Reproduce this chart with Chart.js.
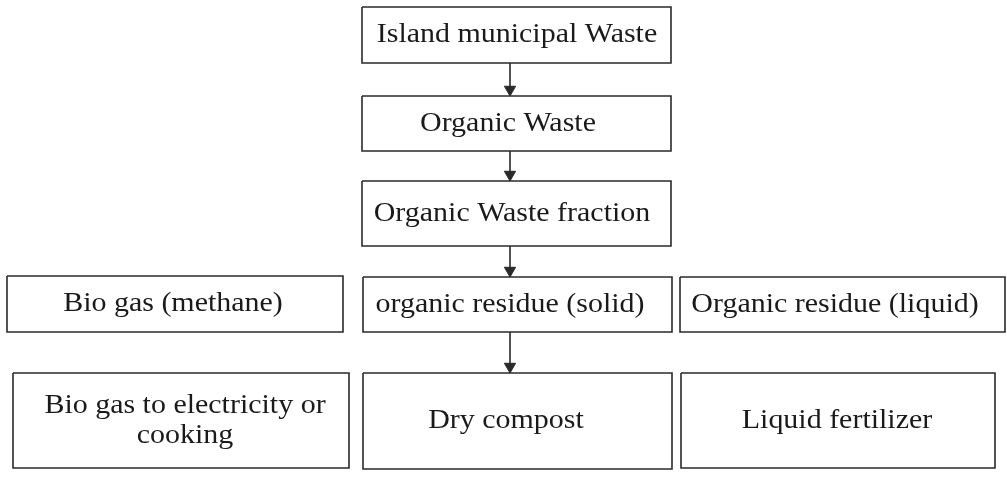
<!DOCTYPE html>
<html>
<head>
<meta charset="utf-8">
<script src="https://cdn.jsdelivr.net/npm/chart.js@4.4.1/dist/chart.umd.min.js"></script>
<style>
html,body{margin:0;padding:0;background:#fff;}
#wrap{position:relative;width:1007px;height:489px;}
</style>
</head>
<body>
<div id="wrap"><canvas id="c"></canvas></div>
<script>
// Flowchart nodes (labels)
const nodeLabels = [
  'Island municipal Waste',
  'Organic Waste',
  'Organic Waste fraction',
  'Bio gas (methane)',
  'organic residue (solid)',
  'Organic residue (liquid)',
  'Bio gas to electricity or\ncooking',
  'Dry compost',
  'Liquid fertilizer'
];
// Node extents in diagram units
const nodeLeft   = [362, 362, 362,   7, 363, 680,  13, 363, 681];
const nodeRight  = [671, 671, 671, 343, 672, 1005, 349, 672, 995];
const nodeTop    = [  7,  96, 181, 276, 277, 277, 373, 373, 373];
const nodeBottom = [ 63, 151, 246, 332, 332, 332, 468, 469, 468];
const labelCenter = [517, 508, 512, 173, 510, 835, 185, 506, 837];
// Arrows: from node, to node, along x
const edgeFrom = [0, 1, 2, 4];
const edgeTo   = [1, 2, 4, 7];
const edgeX    = [510, 510, 510, 510];

const ink = '#2a2a2a';
const headR = 6.5;

const datasets = [];
nodeLabels.forEach((lab, i) => {
  datasets.push({
    data: [
      {x: nodeLeft[i], y: nodeTop[i]},
      {x: nodeRight[i], y: nodeTop[i]},
      {x: nodeRight[i], y: nodeBottom[i]},
      {x: nodeLeft[i], y: nodeBottom[i]},
      {x: nodeLeft[i], y: nodeTop[i]}
    ],
    showLine: true, borderColor: ink, borderWidth: 1.6, pointRadius: 0,
    tension: 0, fill: false
  });
});
edgeFrom.forEach((f, k) => {
  const t = edgeTo[k];
  datasets.push({
    data: [{x: edgeX[k], y: nodeBottom[f]}, {x: edgeX[k], y: nodeTop[t] - headR}],
    showLine: true, borderColor: ink, borderWidth: 1.6, pointRadius: 0, fill: false
  });
});
datasets.push({
  data: edgeTo.map((t, k) => ({x: edgeX[k], y: nodeTop[t] - headR})),
  showLine: false, pointStyle: 'triangle', rotation: 180, pointRadius: headR,
  backgroundColor: ink, borderColor: ink, borderWidth: 1
});

const labelPlugin = {
  id: 'labels',
  afterDatasetsDraw(chart) {
    const {ctx, scales: {x, y}} = chart;
    ctx.save();
    ctx.fillStyle = '#1a1a1a';
    ctx.font = '28px "Liberation Serif", "Times New Roman", serif';
    ctx.textAlign = 'center';
    ctx.textBaseline = 'middle';
    const lineH = 30;
    nodeLabels.forEach((lab, i) => {
      const lines = lab.split('\n');
      const cx = x.getPixelForValue(labelCenter[i]);
      const cy = y.getPixelForValue((nodeTop[i] + nodeBottom[i]) / 2);
      lines.forEach((ln, j) => {
        const ly = cy + (j - (lines.length - 1) / 2) * lineH;
        ctx.save();
        ctx.translate(cx, ly);
        ctx.scale(1.07, 1);
        ctx.fillText(ln, 0, 0);
        ctx.restore();
      });
    });
    ctx.restore();
  }
};

new Chart(document.getElementById('c'), {
  type: 'scatter',
  data: {datasets},
  options: {
    responsive: true,
    maintainAspectRatio: false,
    animation: false,
    layout: {padding: 0, autoPadding: false},
    plugins: {legend: {display: false}, tooltip: {enabled: false}},
    scales: {
      x: {type: 'linear', min: 0, max: 1007, display: false},
      y: {type: 'linear', min: 0, max: 489, reverse: true, display: false}
    }
  },
  plugins: [labelPlugin]
});
</script>
</body>
</html>
